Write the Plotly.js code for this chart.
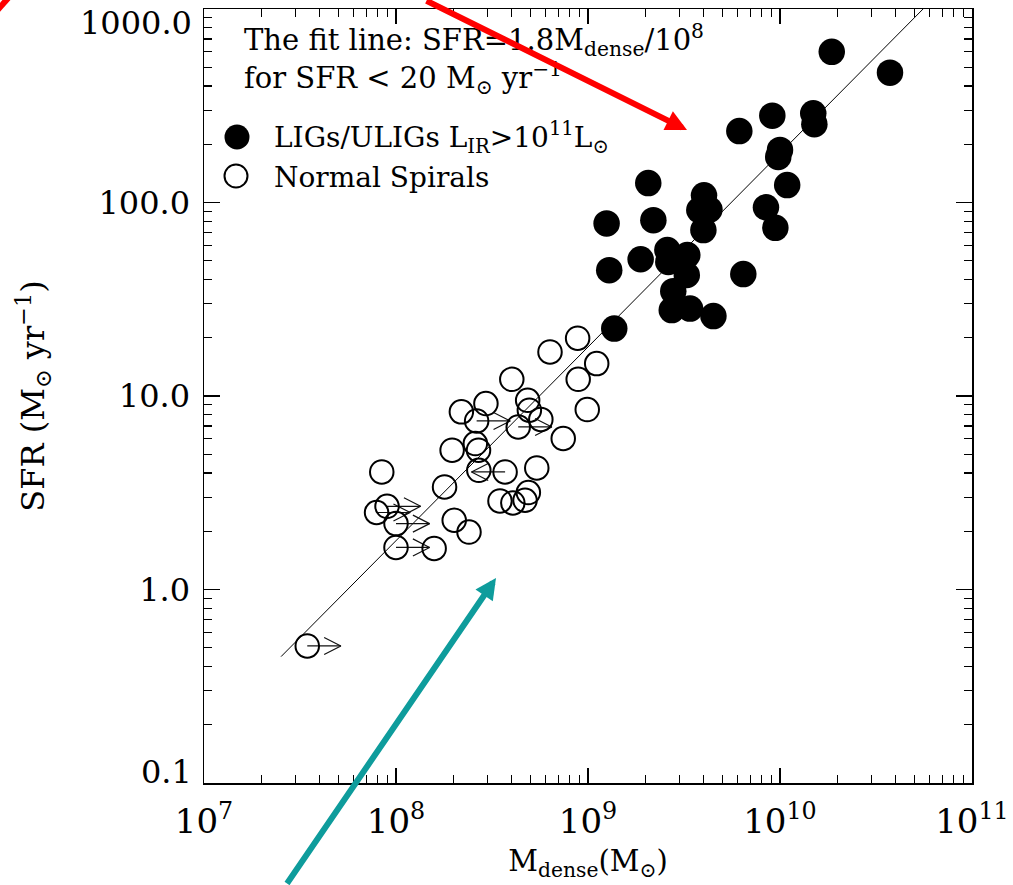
<!DOCTYPE html>
<html>
<head>
<meta charset="utf-8">
<script src="https://cdn.plot.ly/plotly-3.0.1.min.js"></script>
<style>html,body{margin:0;padding:0;background:#fff;}#chart{width:1013px;height:885px;}</style>
</head>
<body>
<div id="chart"></div>
<script>
// LIGs/ULIGs (filled circles)
const ligMdense = [1.86e10, 3.74e10, 9.12e9, 1.49e10, 1.51e10, 6.14e9, 1.0e10, 9.79e9, 1.09e10, 2.06e9,
                   4.02e9, 3.80e9, 4.29e9, 8.45e9, 1.25e9, 2.19e9, 3.99e9, 9.46e9, 1.29e9, 1.88e9,
                   2.59e9, 2.62e9, 3.29e9, 3.27e9, 6.44e9, 2.78e9, 2.73e9, 3.40e9, 4.50e9, 1.37e9];
const ligSFR    = [601, 469, 281, 289, 254, 234, 187, 172, 123, 126,
                   109, 91.4, 92, 94.4, 78, 81, 72, 74, 44.7, 50.9,
                   56.8, 49.3, 53.5, 42.2, 42.7, 34.8, 27.8, 28.3, 25.9, 22.3];
// Normal spirals (open circles)
const spiralMdense = [8.83e8, 6.34e8, 1.11e9, 8.89e8, 4.01e8, 9.91e8, 2.94e8, 2.19e8, 4.85e8, 4.95e8,
                      5.68e8, 2.63e8, 4.33e8, 7.43e8, 2.59e8, 2.69e8, 1.96e8, 2.70e8, 3.70e8, 5.41e8,
                      8.43e7, 1.79e8, 4.89e8, 3.48e8, 4.06e8, 4.70e8, 8.98e7, 7.92e7, 1.0e8, 2.01e8,
                      2.40e8, 1.0e8, 1.58e8, 3.45e7];
const spiralSFR    = [19.9, 16.9, 14.7, 12.2, 12.2, 8.51, 9.14, 8.28, 9.5, 8.45,
                      7.57, 7.43, 6.92, 6.03, 5.68, 5.25, 5.25, 4.13, 4.05, 4.25,
                      4.05, 3.39, 3.17, 2.87, 2.80, 2.89, 2.69, 2.50, 2.19, 2.28,
                      1.98, 1.65, 1.63, 0.511];
// limit arrows: 1 = lower limit (arrow right), -1 = upper limit (arrow left), 0 = none
const spiralLimit  = [0,0,0,0,0,0,0,0,0,0, 0,1,1,0,0,0,0,0,-1,0, 0,0,0,0,0,0,1,1,1,0, 0,1,0,1];
// fit line end points
const fitMdense = [2.52e7, 5.56e10];
const fitSFR    = [0.45, 1000];
// axis ticks
const xTickVals = [1e7, 1e8, 1e9, 1e10, 1e11];
const xTickText = ['10<sup>7</sup>', '10<sup>8</sup>', '10<sup>9</sup>', '10<sup>10</sup>', '10<sup>11</sup>'];
const yTickVals = [0.1, 1, 10, 100, 1000];
const yTickText = ['0.1', '1.0', '10.0', '100.0', '1000.0'];

function minorTicks(lo, hi) {
  const out = [];
  for (let e = lo; e < hi; e++) for (let m = 2; m <= 9; m++) out.push(m * Math.pow(10, e));
  return out;
}

// build limit arrows in log space
const ARROW_LEN = 0.175, HEAD_BACK = 0.087, HEAD_HALF = 0.044;
const arrX = [], arrY = [];
spiralLimit.forEach((d, i) => {
  if (!d) return;
  const x0 = spiralMdense[i], y0 = spiralSFR[i];
  const x1 = x0 * Math.pow(10, d * ARROW_LEN);
  const xb = x1 * Math.pow(10, -d * HEAD_BACK);
  arrX.push(x0, x1, null, xb, x1, xb, null);
  arrY.push(y0, y0, null, y0 * Math.pow(10, HEAD_HALF), y0, y0 * Math.pow(10, -HEAD_HALF), null);
});

const FONT = 'DejaVu Serif, Liberation Serif, serif';

const traces = [
  { x: fitMdense, y: fitSFR, mode: 'lines', line: { color: '#000', width: 1 }, hoverinfo: 'skip' },
  { x: arrX, y: arrY, mode: 'lines', line: { color: '#111', width: 1.2 }, hoverinfo: 'skip', connectgaps: false },
  { x: spiralMdense, y: spiralSFR, mode: 'markers', name: 'Normal Spirals',
    marker: { symbol: 'circle', size: 23.5, color: 'rgba(0,0,0,0)', line: { color: '#000', width: 2 } } },
  { x: ligMdense, y: ligSFR, mode: 'markers', name: 'LIGs/ULIGs',
    marker: { symbol: 'circle', size: 26.5, color: '#000', line: { width: 0 } } }
];

const W = 768, H = 774, L = 204, T = 9;
const px = v => (v - L) / W;
const py = v => (T + H - v) / H;

// the end labels of the y axis sit inside the frame in the original, so they are placed as text
const yTickTextAxis = yTickText.map((t, i) => (i === 0 || i === yTickText.length - 1) ? '' : t);

const layout = {
  width: 1013, height: 885,
  margin: { l: 204, r: 41, t: 9, b: 102 },
  paper_bgcolor: '#fff', plot_bgcolor: '#fff',
  showlegend: false,
  font: { family: FONT, color: '#000' },
  xaxis: {
    type: 'log', range: [7, 11], showgrid: false, zeroline: false,
    showline: true, linecolor: '#000', linewidth: 1.5, mirror: 'allticks',
    ticks: 'inside', ticklen: 15, tickwidth: 1.3, tickcolor: '#000',
    tickmode: 'array', tickvals: xTickVals, ticktext: xTickText,
    tickfont: { family: FONT, size: 34 }, ticklabelstandoff: 8,
    minor: { tickmode: 'array', tickvals: minorTicks(7, 11), ticks: 'inside', ticklen: 8, tickwidth: 1.1, tickcolor: '#000', showgrid: false },
    title: { text: 'M<sub>dense</sub>(M<sub>⊙</sub>)', font: { family: FONT, size: 29 }, standoff: 10 },
    automargin: false
  },
  yaxis: {
    type: 'log', range: [-1, 3], showgrid: false, zeroline: false,
    showline: true, linecolor: '#000', linewidth: 1.5, mirror: 'allticks',
    ticks: 'inside', ticklen: 16, tickwidth: 1.3, tickcolor: '#000',
    tickmode: 'array', tickvals: yTickVals, ticktext: yTickTextAxis,
    tickfont: { family: FONT, size: 32 }, ticklabelstandoff: 6,
    minor: { tickmode: 'array', tickvals: minorTicks(-1, 3), ticks: 'inside', ticklen: 8, tickwidth: 1.1, tickcolor: '#000', showgrid: false },
    title: { text: 'SFR (M<sub>⊙</sub> yr<sup>−1</sup>)', font: { family: FONT, size: 32 }, standoff: 44 },
    automargin: false
  },
  shapes: [
    { type: 'circle', xref: 'paper', yref: 'paper', xsizemode: 'pixel', ysizemode: 'pixel',
      xanchor: px(237), yanchor: py(137), x0: -12.5, x1: 12.5, y0: -12.5, y1: 12.5,
      fillcolor: '#000', line: { width: 0 } },
    { type: 'circle', xref: 'paper', yref: 'paper', xsizemode: 'pixel', ysizemode: 'pixel',
      xanchor: px(236), yanchor: py(176), x0: -11.5, x1: 11.5, y0: -11.5, y1: 11.5,
      fillcolor: 'rgba(0,0,0,0)', line: { color: '#000', width: 2 } },
    { type: 'line', xref: 'paper', yref: 'paper', x0: px(-6), y0: py(14), x1: px(10), y1: py(-4),
      line: { color: '#ff0000', width: 6 } }
  ],
  annotations: [
    { xref: 'paper', yref: 'paper', x: px(194), y: py(23), xanchor: 'right', yanchor: 'middle', showarrow: false,
      text: yTickText[yTickText.length - 1], font: { family: FONT, size: 32 } },
    { xref: 'paper', yref: 'paper', x: px(194), y: py(772), xanchor: 'right', yanchor: 'middle', showarrow: false,
      text: yTickText[0], font: { family: FONT, size: 32 } },
    { xref: 'paper', yref: 'paper', x: px(242), y: py(40), xanchor: 'left', yanchor: 'middle', showarrow: false,
      text: 'The fit line: SFR=1.8M<sub>dense</sub>/10<sup>8</sup>', font: { family: FONT, size: 29 } },
    { xref: 'paper', yref: 'paper', x: px(242), y: py(78), xanchor: 'left', yanchor: 'middle', showarrow: false,
      text: 'for SFR &lt; 20 M<sub>⊙</sub> yr<sup>−1</sup>', font: { family: FONT, size: 29 } },
    { xref: 'paper', yref: 'paper', x: px(272), y: py(138), xanchor: 'left', yanchor: 'middle', showarrow: false,
      text: 'LIGs/ULIGs L<sub>IR</sub>&gt;10<sup>11</sup>L<sub>⊙</sub>', font: { family: FONT, size: 28 } },
    { xref: 'paper', yref: 'paper', x: px(272), y: py(177), xanchor: 'left', yanchor: 'middle', showarrow: false,
      text: 'Normal Spirals', font: { family: FONT, size: 28 } },
    { xref: 'paper', yref: 'paper', x: px(687), y: py(130), showarrow: true, text: '',
      ax: -262, ay: -142, arrowcolor: '#ff0000', arrowwidth: 6, arrowhead: 2, arrowsize: 0.7 },
    { xref: 'paper', yref: 'paper', x: px(496), y: py(578), showarrow: true, text: '',
      ax: -210, ay: 314, arrowcolor: '#0e9c9c', arrowwidth: 6, arrowhead: 2, arrowsize: 0.7 }
  ]
};

Plotly.newPlot('chart', traces, layout, { staticPlot: true, displayModeBar: false });
</script>
</body>
</html>
